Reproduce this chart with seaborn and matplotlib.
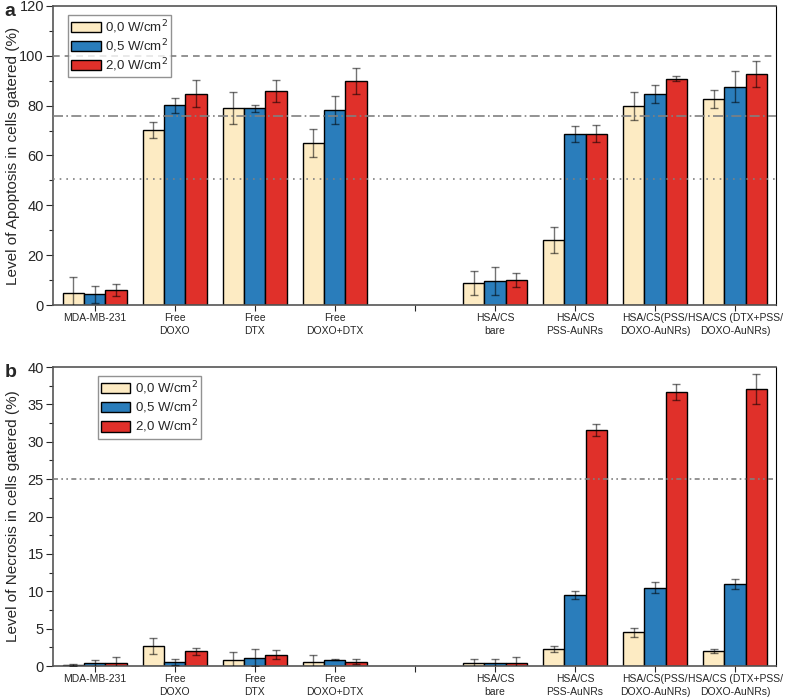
import numpy as np
import pandas as pd
import matplotlib
matplotlib.use("Agg")
import matplotlib.pyplot as plt
import seaborn as sns
from matplotlib.ticker import MultipleLocator

# Categories (an empty slot separates free drugs and nanoparticles)
categories = ["MDA-MB-231", "Free\nDOXO", "Free\nDTX", "Free\nDOXO+DTX", " ",
              "HSA/CS\nbare", "HSA/CS\nPSS-AuNRs", "HSA/CS(PSS/\nDOXO-AuNRs)",
              "HSA/CS (DTX+PSS/\nDOXO-AuNRs)"]
data_categories = [c for c in categories if c != " "]
powers = ["0,0 W/cm$^2$", "0,5 W/cm$^2$", "2,0 W/cm$^2$"]
colors = ["#FDEBC3", "#2A7DBB", "#E0302A"]

# Apoptosis (%), rows = power levels, columns = data_categories
apoptosis = [
    [5.0, 70.2, 79.1, 65.0, 8.9, 26.0, 79.8, 82.7],
    [4.4, 80.1, 79.0, 78.3, 9.6, 68.7, 84.6, 87.5],
    [6.0, 84.8, 85.9, 89.7, 10.1, 68.8, 90.8, 92.5],
]
apoptosis_err = [
    [6.2, 3.1, 6.4, 5.6, 4.7, 5.2, 5.6, 3.6],
    [3.4, 3.1, 1.4, 5.6, 5.7, 3.3, 3.6, 6.2],
    [2.4, 5.4, 4.3, 5.2, 2.7, 3.3, 1.0, 5.2],
]

# Necrosis (%)
necrosis = [
    [0.13, 2.7, 0.75, 0.6, 0.35, 2.3, 4.5, 2.05],
    [0.35, 0.6, 1.1, 0.85, 0.35, 9.5, 10.5, 11.0],
    [0.35, 1.95, 1.5, 0.6, 0.35, 31.6, 36.65, 37.05],
]
necrosis_err = [
    [0.1, 1.1, 1.1, 0.85, 0.6, 0.4, 0.6, 0.27],
    [0.5, 0.4, 1.15, 0.1, 0.6, 0.6, 0.7, 0.65],
    [0.9, 0.5, 0.6, 0.3, 0.9, 0.8, 1.05, 2.0],
]


def to_frame(values, errors):
    rows = []
    for p, vals, errs in zip(powers, values, errors):
        for c, v, e in zip(data_categories, vals, errs):
            rows.append({"category": c, "power": p, "value": v, "err": e})
    return pd.DataFrame(rows)


def draw_panel(ax, df, ylim, major, ylabel, lines, legend_anchor):
    sns.barplot(data=df, x="category", y="value", hue="power", order=categories,
                hue_order=powers, palette=colors, errorbar=None, width=0.8,
                edgecolor="black", linewidth=1.0, saturation=1, ax=ax, zorder=2)
    # error bars from the bar patches
    lookup = {(r.category, r.power): r.err for r in df.itertuples()}
    for p, cont in zip(powers, ax.containers):
        for bar in cont:
            h = bar.get_height()
            if not np.isfinite(h):
                continue
            xc = bar.get_x() + bar.get_width() / 2
            cat = categories[int(round(xc))]
            e = lookup.get((cat, p))
            if e is None:
                continue
            ax.errorbar(xc, h, yerr=e, fmt="none", ecolor="black", alpha=0.55,
                        elinewidth=1.0, capsize=3, capthick=1.0, zorder=3)
    for y, ls in lines:
        ax.axhline(y, color="gray", linestyle=ls, linewidth=1.2, zorder=4)

    ax.set_xlim(-0.52, 8.51)
    ax.set_ylim(*ylim)
    ax.yaxis.set_major_locator(MultipleLocator(major))
    ax.yaxis.set_minor_locator(MultipleLocator(major / 2))
    ax.tick_params(axis="y", which="major", length=5, width=0.8, labelsize=10.5,
                   direction="out", pad=1.5)
    ax.tick_params(axis="y", which="minor", length=3, width=0.8, direction="out")
    ax.tick_params(axis="x", length=4, width=0.8, labelsize=7.5, direction="out",
                   pad=2)
    for lbl in ax.get_xticklabels():
        lbl.set_linespacing(1.35)
    ax.set_xlabel("")
    ax.set_ylabel(ylabel, fontsize=11)
    ax.yaxis.set_label_coords(-0.046, 0.5)
    for side in ["left", "bottom", "top"]:
        ax.spines[side].set_color("#555555")
        ax.spines[side].set_linewidth(1.2)
    ax.spines["right"].set_color("black")
    ax.spines["right"].set_linewidth(0.8)
    ax.spines["top"].set_visible(True)
    ax.spines["right"].set_visible(True)
    ax.grid(False)

    leg = ax.legend(loc="upper left", bbox_to_anchor=legend_anchor, fontsize=9.5,
                    frameon=True, fancybox=False, edgecolor="#777777",
                    handlelength=2.2, handleheight=0.8, borderpad=0.25,
                    labelspacing=0.12, handletextpad=0.35, borderaxespad=0.0)
    leg.get_frame().set_linewidth(1.0)
    for hnd in leg.legend_handles:
        hnd.set_edgecolor("black")
        hnd.set_linewidth(1.0)


sns.set_theme(style="ticks")
plt.rcParams["font.family"] = ["Liberation Sans", "DejaVu Sans"]

fig = plt.figure(figsize=(7.97, 6.98), dpi=100)
ax1 = fig.add_axes([0.0665, 0.563, 0.907, 0.4286])
ax2 = fig.add_axes([0.0665, 0.0458, 0.907, 0.4284])

draw_panel(ax1, to_frame(apoptosis, apoptosis_err), (0, 120), 20,
           "Level of Apoptosis in cells gatered (%)",
           [(99.7, (0, (4, 3))), (75.8, (0, (6, 2, 1, 2))), (50.5, (0, (1, 3)))],
           (0.021, 0.97))
draw_panel(ax2, to_frame(necrosis, necrosis_err), (0, 40), 5,
           "Level of Necrosis in cells gatered (%)",
           [(25.0, (0, (3, 2, 1, 2, 1, 2)))],
           (0.062, 0.97))

fig.text(0.006, 0.995, "a", fontsize=14, fontweight="bold", va="top")
fig.text(0.006, 0.478, "b", fontsize=14, fontweight="bold", va="top")

fig.savefig("out.png", dpi=100)
